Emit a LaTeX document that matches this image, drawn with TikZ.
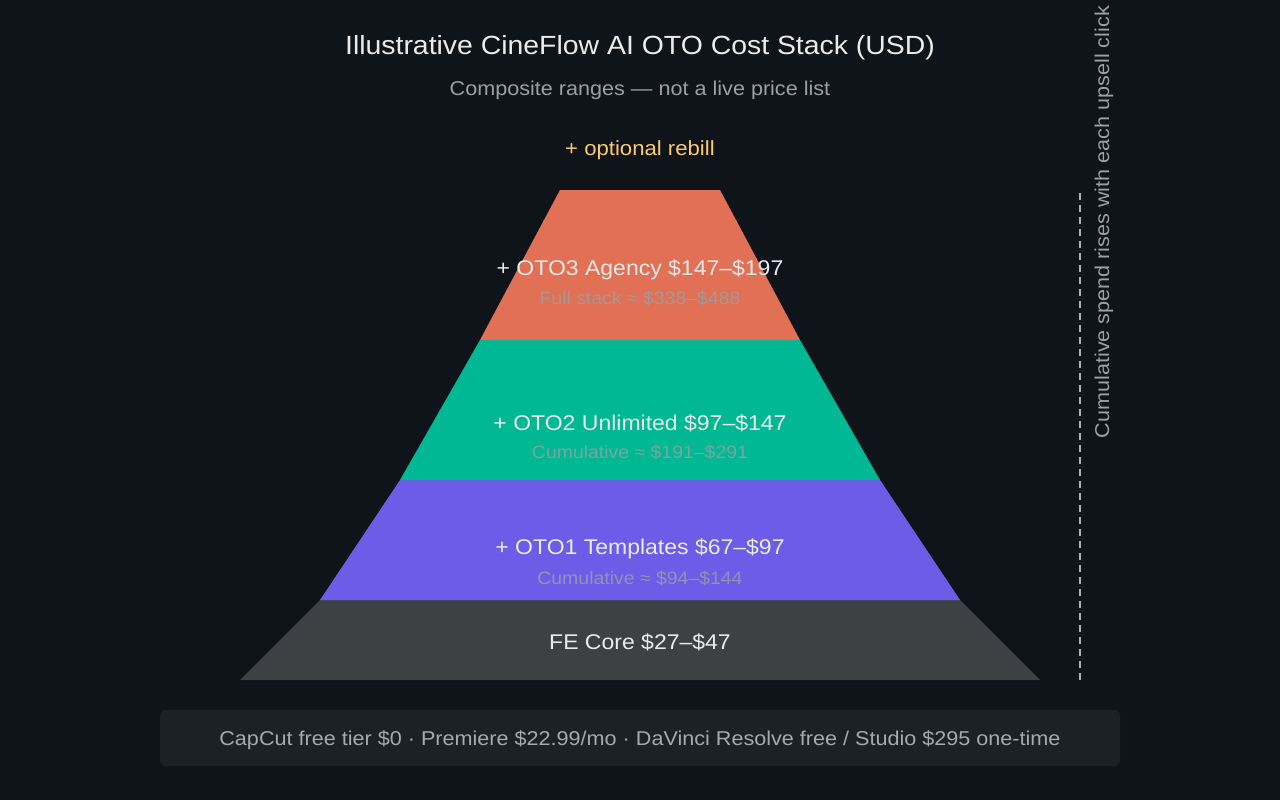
\documentclass[tikz,border=0pt]{standalone}
\usepackage{fontspec}
\setmainfont{Liberation Sans}[FakeStretch=1.08]
\definecolor{bg}{HTML}{0F131A}
\definecolor{fe}{HTML}{3D4144}
\definecolor{otoa}{HTML}{6C5CE7}
\definecolor{otob}{HTML}{00B894}
\definecolor{otoc}{HTML}{E17055}
\definecolor{gold}{HTML}{FDCB6E}
\definecolor{muted}{HTML}{9AA0A6}
\definecolor{panel}{HTML}{1C2027}
\tikzset{
  layer/.style={draw=none},
  mainlbl/.style={text=white!92!black, font=\fontsize{21.3}{25}\selectfont, inner sep=0pt},
  sublbl/.style={text=muted, opacity=0.8, font=\fontsize{18}{22}\selectfont, inner sep=0pt},
}
\begin{document}
\begin{tikzpicture}[x=1pt,y=-1pt]
\fill[bg] (0,0) rectangle (1280,800);
\useasboundingbox (0,0) rectangle (1280,800);
% title
\node[text=white!92!black, font=\fontsize{26.3}{30}\selectfont, inner sep=0pt] (title) at (640,48) {Illustrative CineFlow AI OTO Cost Stack (USD)};
\node[text=muted, font=\fontsize{20}{24}\selectfont, inner sep=0pt] (subtitle) at (640,90) {Composite ranges — not a live price list};
\node[text=gold, font=\fontsize{20.5}{24}\selectfont, inner sep=0pt] (rebill) at (640,150) {+ optional rebill};
% layers
\fill[fe, layer] (240,680) -- (1040,680) -- (960,600) -- (320,600) -- cycle;
\fill[otoa, layer] (320,600) -- (960,600) -- (880,480) -- (400,480) -- cycle;
\fill[otob, layer] (400,480) -- (880,480) -- (800,340) -- (480,340) -- cycle;
\fill[otoc, layer] (480,340) -- (800,340) -- (720,190) -- (560,190) -- cycle;
% labels
\node[mainlbl] (l3) at (640,270) {+ OTO3 Agency \$147–\$197};
\node[sublbl] (s3) at (640,298) {Full stack ≈ \$338–\$488};
\node[mainlbl] (l2) at (640,423) {+ OTO2 Unlimited \$97–\$147};
\node[sublbl] (s2) at (640,452) {Cumulative ≈ \$191–\$291};
\node[mainlbl] (l1) at (640,549) {+ OTO1 Templates \$67–\$97};
\node[sublbl] (s1) at (640,578) {Cumulative ≈ \$94–\$144};
\node[mainlbl] (l0) at (640,642) {FE Core \$27–\$47};
% side axis
\coordinate (axtop) at (1080,190);
\coordinate (axbot) at (1080,680);
\draw[muted!80!white, line width=1.6pt, dash pattern=on 7pt off 5pt] (axbot) -- (axtop);
\node[text=muted, font=\fontsize{20}{24}\selectfont, inner sep=0pt, rotate=90] (axlbl) at (1104,222) {Cumulative spend rises with each upsell click};
% bottom panel
\fill[panel, rounded corners=6pt] (160,710) rectangle (1120,766);
\node[text=muted!90!white, font=\fontsize{20}{24}\selectfont, inner sep=0pt] (foot) at (640,740) {CapCut free tier \$0 · Premiere \$22.99/mo · DaVinci Resolve free / Studio \$295 one-time};
\end{tikzpicture}
\end{document}
